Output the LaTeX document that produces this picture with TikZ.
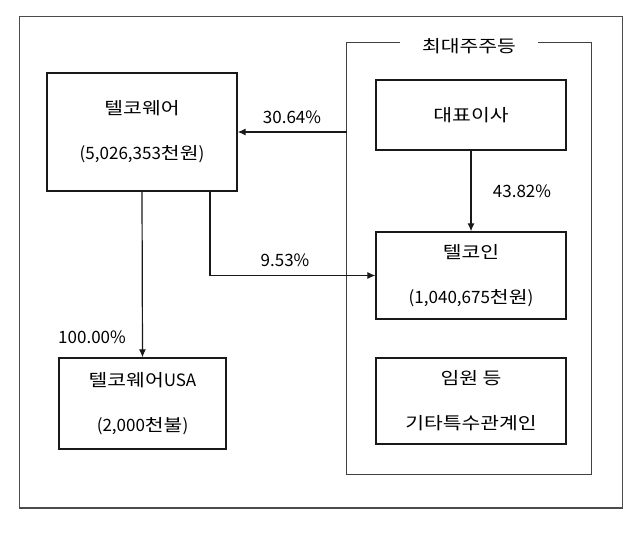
\documentclass[tikz,border=0pt]{standalone}
\usepackage{fontspec}
\setmainfont{Noto Sans CJK KR}
\newfontfamily\kr[FakeStretch=1.2]{Noto Sans CJK KR}
\usetikzlibrary{arrows.meta}
\begin{document}
\begin{tikzpicture}[x=1bp,y=-1bp,
  every node/.style={font=\fontsize{17bp}{45bp}\selectfont, inner sep=0pt},
  box/.style={draw=black!90, line width=1.3bp, align=center},
  arr/.style={draw=black!90, line width=1.2bp, -{Latex[length=8bp,width=7bp]}},
  frame/.style={draw=black!70, line width=1.6bp},
  grpline/.style={draw=black!75, line width=1.3bp}]
\useasboundingbox (0,0) rectangle (640,540);
\draw[frame] (19.5,16.5) rectangle (622.5,508);
% group
\node (grp) at (469,258.5) [minimum width=244bp, minimum height=431bp] {};
\node (title) at (469,46) [inner xsep=0bp, minimum width=137bp] {\kr 최대주주등};
\draw[grpline] (title.west |- grp.north) -- (grp.north west) -- (grp.south west) -- (grp.south east) -- (grp.north east) -- (title.east |- grp.north);
% boxes
\node[box, minimum width=190bp, minimum height=118bp] (telco) at (142,132) {{\kr 텔코웨어}\\(5,026,353{\kr 천원})};
\node[box, minimum width=190bp, minimum height=70bp] (ceo) at (471,115) {\kr 대표이사};
\node[box, minimum width=190bp, minimum height=87bp] (telcoin) at (471,275.5) {{\kr 텔코인}\\(1,040,675{\kr 천원})};
\node[box, minimum width=190bp, minimum height=86bp] (exec) at (471,401) {{\kr 임원 등}\\{\kr 기타특수관계인}};
\node[box, minimum width=167bp, minimum height=91bp] (usa) at (142.5,403.5) {{\kr 텔코웨어}USA\\(2,000{\kr 천불})};
% connectors
\draw[arr] (telco.east -| grp.west) -- (telco.east);
\draw[arr] (ceo.south) -- (telcoin.north);
\draw[arr] ([xshift=68bp]telco.south) |- (telcoin.west);
\draw[arr] (telco.south) -- (usa.north);
% labels
\node (l1) at (292,117) {30.64\%};
\node (l2) at (522,191) {43.82\%};
\node (l3) at (285,260) {9.53\%};
\node (l4) at (92,337) {100.00\%};
\end{tikzpicture}
\end{document}
